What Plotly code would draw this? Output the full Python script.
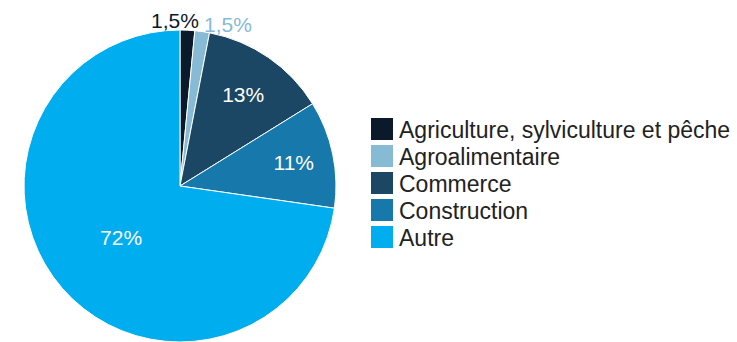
import plotly.graph_objects as go

categories = ["Agriculture, sylviculture et pêche", "Agroalimentaire", "Commerce", "Construction", "Autre"]
values = [1.5, 1.5, 13, 11, 72]
value_labels = ["1,5%", "1,5%", "13%", "11%", "72%"]
colors = ["#0b1a2b", "#86bad5", "#1c4764", "#1778ab", "#00adee"]
text_colors = ["#0b1a2b", "#86bad5", "#ffffff", "#ffffff", "#ffffff"]
positions = ["none", "none", "inside", "inside", "inside"]

W, H = 737, 342
FONT = "Liberation Sans, Arial, Helvetica, sans-serif"

fig = go.Figure()
fig.add_trace(go.Pie(
    labels=categories,
    values=values,
    text=value_labels,
    textinfo="text",
    texttemplate="%{text}",
    textposition=positions,
    insidetextorientation="horizontal",
    textfont=dict(family=FONT, size=21, color=text_colors),
    marker=dict(colors=colors, line=dict(color="#ffffff", width=1)),
    sort=False,
    direction="clockwise",
    rotation=0,
    hole=0,
    showlegend=False,
    domain=dict(x=[23 / W, 337 / W], y=[0, 1 - 30 / H]),
))

# labels of the two thin slices, set above the pie
outside_label_pos = [(175, 21), (228, 25)]
for lab, col, (px, py) in zip(value_labels[:2], text_colors[:2], outside_label_pos):
    fig.add_annotation(xref="paper", yref="paper", x=px / W, y=1 - py / H,
                       xanchor="center", yanchor="middle", showarrow=False,
                       text=lab, font=dict(family=FONT, size=21, color=col))

# custom legend (large square swatches)
row_centers = [129, 156, 183, 210, 237]
for cat, col, yc in zip(categories, colors, row_centers):
    fig.add_shape(type="rect", xref="paper", yref="paper",
                  x0=371 / W, x1=393 / W,
                  y0=1 - (yc + 11) / H, y1=1 - (yc - 11) / H,
                  fillcolor=col, line=dict(width=0))
    fig.add_annotation(xref="paper", yref="paper", x=397 / W, y=1 - (yc + 1) / H,
                       xanchor="left", yanchor="middle", showarrow=False,
                       text=cat, font=dict(family=FONT, size=23, color="#222222"))

fig.update_layout(
    width=W, height=H,
    margin=dict(l=0, r=0, t=0, b=0),
    paper_bgcolor="#ffffff",
    plot_bgcolor="#ffffff",
)

fig.write_html("out.html", config={"displayModeBar": False},
               post_script="document.body.style.margin='0px';")
